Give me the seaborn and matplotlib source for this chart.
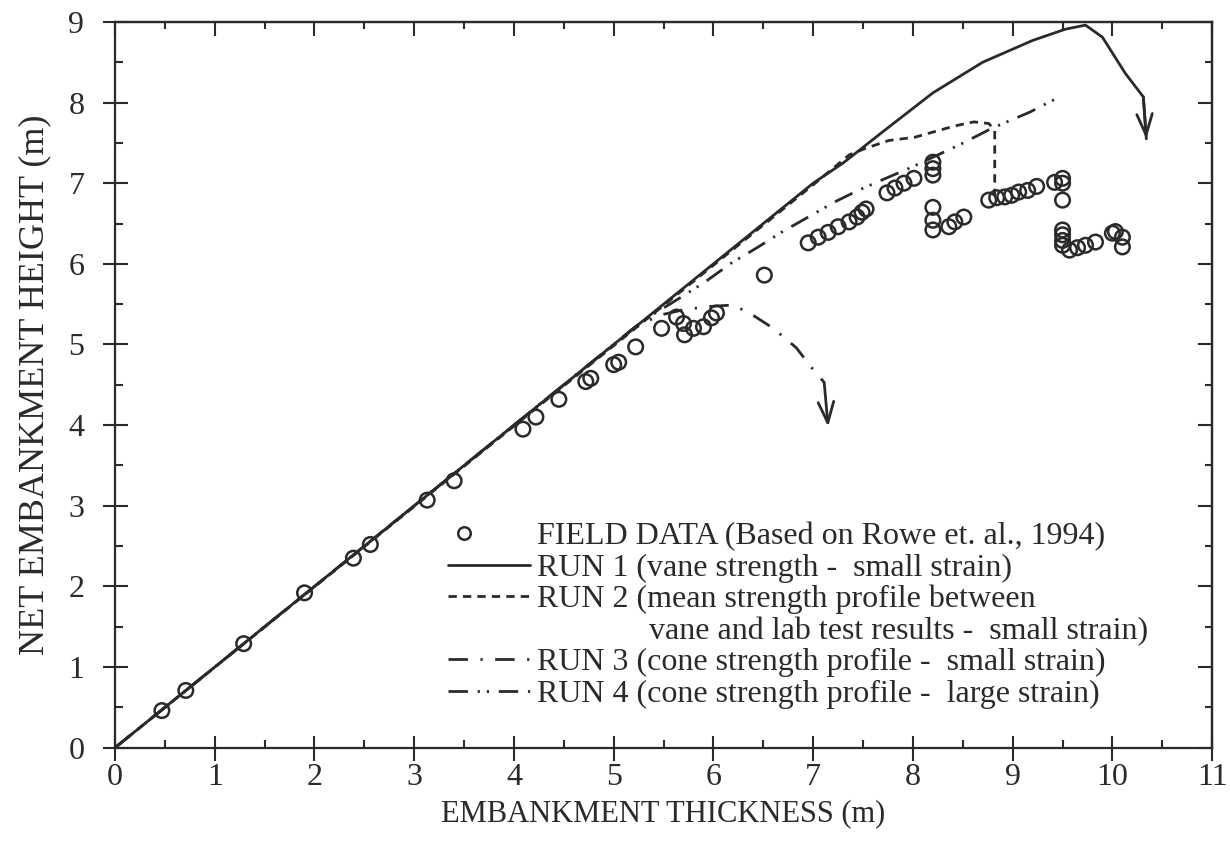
import numpy as np
import pandas as pd
import matplotlib
matplotlib.use("Agg")
import matplotlib.pyplot as plt
import seaborn as sns
from matplotlib.lines import Line2D
from matplotlib.legend_handler import HandlerLine2D
from matplotlib.ticker import MultipleLocator

# ---------------- data ----------------
field_x = [0.47, 0.71, 1.29, 1.90, 2.39, 2.56, 3.13, 3.40, 4.09, 4.22, 4.45, 4.72, 4.77,
           5.00, 5.05, 5.22, 5.48, 5.63, 5.70, 5.71, 5.80, 5.90, 5.98, 6.03, 6.51,
           6.95, 7.05, 7.15, 7.25, 7.36, 7.44, 7.49, 7.53, 7.74, 7.82, 7.91, 8.01,
           8.20, 8.20, 8.20, 8.20, 8.20, 8.20, 8.36, 8.42, 8.51,
           8.76, 8.84, 8.92, 8.99, 9.06, 9.15, 9.24, 9.42, 9.50, 9.50, 9.50,
           9.50, 9.50, 9.50, 9.50, 9.57, 9.65, 9.73, 9.83, 10.00, 10.03, 10.10, 10.10]
field_y = [0.46, 0.71, 1.29, 1.92, 2.35, 2.52, 3.07, 3.31, 3.95, 4.10, 4.32, 4.54, 4.58,
           4.75, 4.78, 4.97, 5.20, 5.34, 5.26, 5.12, 5.20, 5.22, 5.33, 5.39, 5.86,
           6.26, 6.33, 6.39, 6.46, 6.52, 6.58, 6.64, 6.68, 6.88, 6.94, 7.00, 7.06,
           7.26, 7.18, 7.10, 6.70, 6.54, 6.42, 6.46, 6.52, 6.58,
           6.79, 6.82, 6.83, 6.85, 6.89, 6.91, 6.96, 7.01, 7.06, 7.00, 6.79,
           6.42, 6.36, 6.29, 6.23, 6.17, 6.20, 6.23, 6.27, 6.38, 6.40, 6.33, 6.21]

run1_x = [0.0, 7.00, 7.30, 7.70, 8.20, 8.70, 9.20, 9.53, 9.73, 9.90, 10.13, 10.31, 10.34]
run1_y = [0.0, 7.00, 7.25, 7.64, 8.12, 8.50, 8.77, 8.91, 8.96, 8.81, 8.36, 8.07, 7.55]

run2_x = [0.0, 7.00, 7.36, 7.52, 7.76, 8.02, 8.19, 8.42, 8.61, 8.76, 8.82, 8.82]
run2_y = [0.0, 6.98, 7.35, 7.43, 7.53, 7.57, 7.63, 7.71, 7.76, 7.74, 7.66, 6.85]

run3_x = [0.0, 5.20, 5.45, 5.70, 5.95, 6.20, 6.40, 6.60, 6.83, 6.98, 7.11, 7.15]
run3_y = [0.0, 5.20, 5.36, 5.43, 5.47, 5.49, 5.36, 5.20, 4.96, 4.72, 4.53, 3.98]

run4_x = [0.0, 5.30, 5.68, 5.91, 6.18, 6.45, 6.68, 6.95, 7.22, 7.45, 7.69, 7.99, 8.49, 8.79, 9.17, 9.50]
run4_y = [0.0, 5.30, 5.59, 5.77, 6.01, 6.21, 6.39, 6.58, 6.77, 6.91, 7.04, 7.20, 7.49, 7.68, 7.88, 8.09]

x_ticks = list(range(0, 12))
y_ticks = list(range(0, 10))

legend_labels = ["FIELD DATA (Based on Rowe et. al., 1994)",
                 "RUN 1 (vane strength -  small strain)",
                 "RUN 2 (mean strength profile between",
                 "              vane and lab test results -  small strain)",
                 "RUN 3 (cone strength profile -  small strain)",
                 "RUN 4 (cone strength profile -  large strain)"]

# ---------------- style ----------------
sns.set_theme(style="white")
plt.rcParams["font.family"] = ["Liberation Serif", "DejaVu Serif"]
INK = "#2a2a2a"
FS_TICK = 23
FS_LEG = 23

fig = plt.figure(figsize=(12.3, 8.42), dpi=100)
ax = fig.add_axes([0.0935, 0.112, 0.892, 0.862])

lw = 2.0
ls_run2 = (0, (3.0, 2.2))
ls_run3 = (0, (7.0, 4.5, 0.8, 4.5))
ls_run4 = (0, (7.0, 3.5, 0.8, 2.5, 0.8, 3.5))
ARROW = "->,head_length=0.75,head_width=0.28"

field = pd.DataFrame({"x": field_x, "y": field_y})
sns.scatterplot(data=field, x="x", y="y", ax=ax, marker="o", s=110,
                facecolor="none", edgecolor=INK, linewidth=1.8, zorder=3)

def draw_run(xs, ys, ls, arrow=False, split_arrow=False):
    n = len(xs) - 1 if split_arrow else len(xs)
    df = pd.DataFrame({"x": xs[:n], "y": ys[:n]})
    sns.lineplot(data=df, x="x", y="y", ax=ax, sort=False, estimator=None,
                 color=INK, linewidth=lw, linestyle=ls, zorder=2)
    if arrow:
        ax.annotate("", xy=(xs[-1], ys[-1]), xytext=(xs[-2], ys[-2]),
                    arrowprops=dict(arrowstyle=ARROW, lw=lw, color=INK,
                                    shrinkA=0, shrinkB=0, mutation_scale=20))

draw_run(run1_x, run1_y, "-", arrow=True)
draw_run(run2_x, run2_y, ls_run2)
draw_run(run3_x, run3_y, ls_run3, arrow=True, split_arrow=True)
draw_run(run4_x, run4_y, ls_run4)

ax.set_xlim(0, 11)
ax.set_ylim(0, 9)
ax.set_xticks(x_ticks)
ax.set_yticks(y_ticks)
ax.xaxis.set_minor_locator(MultipleLocator(0.5))
ax.yaxis.set_minor_locator(MultipleLocator(0.5))
ax.tick_params(which="major", direction="inout", length=18, width=1.5, color=INK,
               labelsize=FS_TICK, labelcolor=INK)
ax.tick_params(axis="x", which="major", pad=2)
ax.tick_params(axis="y", which="major", pad=13)
ax.tick_params(which="minor", direction="in", length=6, width=1.5, color=INK)
ax.tick_params(axis="x", which="both", bottom=True, top=False)
ax.tick_params(axis="y", which="both", left=True, right=False)

for s in ax.spines.values():
    s.set_linewidth(1.6)
    s.set_color(INK)

top = ax.secondary_xaxis("top")
top.set_xticks(x_ticks)
top.xaxis.set_minor_locator(MultipleLocator(0.5))
top.tick_params(which="major", direction="in", length=10, width=1.5, color=INK, labeltop=False)
top.tick_params(which="minor", direction="in", length=5, width=1.5, color=INK)
right = ax.secondary_yaxis("right")
right.set_yticks(y_ticks)
right.yaxis.set_minor_locator(MultipleLocator(0.5))
right.tick_params(which="major", direction="in", length=10, width=1.5, color=INK, labelright=False)
right.tick_params(which="minor", direction="in", length=5, width=1.5, color=INK)
for sa in (top, right):
    for s in sa.spines.values():
        s.set_linewidth(1.6)
        s.set_color(INK)

ax.set_xlabel("EMBANKMENT THICKNESS (m)", fontsize=22, color=INK, labelpad=5)
ax.set_ylabel("NET EMBANKMENT HEIGHT (m)", fontsize=26, color=INK, labelpad=12)


class LeftMarkerHandler(HandlerLine2D):
    def get_xdata(self, legend, xdescent, ydescent, width, height, fontsize):
        x = -xdescent + 0.2 * width
        return np.array([x]), np.array([x])


marker_handle = Line2D([], [], linestyle="none", marker="o", markersize=9,
                       markerfacecolor="none", markeredgecolor=INK, markeredgewidth=1.8)
handles = [
    marker_handle,
    Line2D([], [], color=INK, lw=lw, linestyle="-"),
    Line2D([], [], color=INK, lw=lw, linestyle=ls_run2),
    Line2D([], [], linestyle="none"),
    Line2D([], [], color=INK, lw=lw, linestyle=ls_run3),
    Line2D([], [], color=INK, lw=lw, linestyle=ls_run4),
]
leg = ax.legend(handles, legend_labels, loc="upper left", bbox_to_anchor=(0.3035, 0.311),
                frameon=False, fontsize=FS_LEG, handlelength=2.57, handletextpad=0.22,
                labelspacing=0.066, borderpad=0, borderaxespad=0,
                handler_map={marker_handle: LeftMarkerHandler(numpoints=1)})
for t in leg.get_texts():
    t.set_color(INK)

fig.savefig("out.png", dpi=100, facecolor="white")
